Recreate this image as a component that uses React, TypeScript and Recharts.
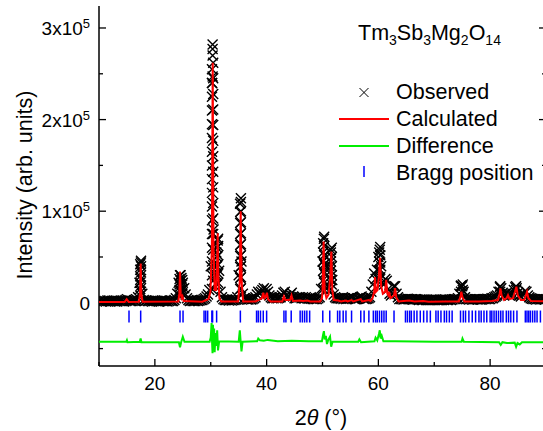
import React from 'react';
import { ComposedChart, Line, Scatter, XAxis, YAxis } from 'recharts';

const FONT = '"Liberation Sans", Arial, Helvetica, sans-serif';

// plot frame in page pixels (chart is wider than the window, right edge is cut)
const PL = 99;
const PR = 546;
const PT = 6;
const PB = 366;
const CW = 560;
const CH = 431;

// observed intensity (x1000 counts), one value every 0.25 deg from 10 to 90
const obsStart = 10;
const obsStep = 0.25;
const obsK = [
  2, 2.5, 1.5, 2, 2, 1.5, 2.5, 2, 1.5, 2, 2, 2.5, 2, 1.5, 2, 2, 2.5, 2, 1.5, 3,
  4, 3, 2, 2, 2, 2.5, 2, 3, 6, 22, 44, 10, 3, 2, 2.5, 2, 2, 2, 1.5, 2,
  2.5, 2, 2, 1.5, 2, 2.5, 2, 2, 2, 1.5, 2, 2.5, 2, 2, 3, 5, 10, 22, 30, 27,
  22, 16, 9, 5, 3, 2, 2.5, 2, 2, 2, 2.5, 2, 2.5, 3, 3, 4, 5, 7, 9, 14,
  40, 240, 80, 30, 55, 68, 35, 12, 6, 4, 3, 3, 3, 2.5, 3, 2.5, 3, 3, 3.5, 6,
  30, 108, 45, 10, 5, 4, 3.5, 3.5, 4, 3.5, 4, 5, 6, 9, 12, 10, 12, 14, 16, 10,
  15, 12, 8, 6, 5, 5, 6, 5, 5, 5.5, 6, 8, 11, 12, 8, 7, 7, 9, 11, 7,
  5, 5, 5.5, 6, 6, 5, 6, 5, 6, 5, 4.5, 5, 4.5, 4, 4, 4, 4, 5, 6, 15,
  45, 70, 40, 15, 18, 40, 58, 25, 9, 6, 5, 5, 5, 4.5, 5, 4, 5, 4, 4.5, 5,
  5, 6, 5, 4, 4, 5, 5, 6, 7, 5, 4, 4, 4.5, 5, 6, 12, 20, 32, 26, 36,
  50, 58, 40, 22, 20, 26, 24, 15, 10, 8, 10, 18, 18, 10, 6, 4, 4, 4, 3.5, 4,
  4, 4.5, 4, 4, 4, 3.5, 4, 4, 3.5, 3, 3.5, 3, 3, 3.5, 3, 3, 3, 3, 3.5, 3,
  3, 3.5, 3, 3, 3, 3, 3.5, 3, 3.5, 3, 3, 3.5, 3, 3.5, 4, 4, 4, 5, 10, 18,
  18, 12, 6, 4, 4, 3.5, 4, 3.5, 3.5, 4, 4, 3.5, 4, 3.5, 3.5, 4, 4, 4, 4.5, 4,
  4, 5, 5, 6, 7, 8, 12, 17, 16, 11, 8, 10, 11, 10, 8, 9, 10, 14, 17, 16,
  11, 8, 7, 9, 10, 13, 12, 8, 6, 5, 4.5, 4, 4, 3.5, 4, 4, 3.5, 4, 4, 3.5,
  4,
];

// steep peak flanks: observed points stacked at nearly the same angle
const obsColumns = [
  { x: 17.38, ys: [8, 15, 22, 29, 36, 42] },
  { x: 17.52, ys: [46, 40, 33, 26, 19, 12] },
  { x: 24.42, ys: [8, 14, 20, 26] },
  { x: 24.6, ys: [30, 24, 18, 12] },
  { x: 24.9, ys: [25, 20, 15, 10] },
  { x: 30.22, ys: [15, 30, 45, 60, 75, 90, 105, 120, 135, 150, 165, 180, 195, 210, 225, 240, 255] },
  { x: 30.33, ys: [282, 277, 270, 247] },
  { x: 30.44, ys: [262, 245, 228, 211, 194, 177, 160, 143, 126, 109, 92, 75, 58, 41, 24] },
  { x: 31.12, ys: [20, 30, 40, 50, 60] },
  { x: 31.32, ys: [70, 62, 52, 42, 32, 22] },
  { x: 35.27, ys: [15, 27, 39, 51, 63, 75, 87, 99] },
  { x: 35.4, ys: [114, 110, 100, 88, 76, 64, 52, 40, 28, 16] },
  { x: 50.12, ys: [15, 25, 35, 45, 55, 65] },
  { x: 50.3, ys: [72, 62, 52, 42, 32, 22] },
  { x: 51.5, ys: [15, 25, 35, 45, 55] },
  { x: 51.66, ys: [60, 50, 40, 30, 20] },
  { x: 60.15, ys: [25, 35, 45, 55] },
  { x: 60.33, ys: [61, 52, 44, 36, 28] },
  { x: 74.8, ys: [12, 19] },
  { x: 75.1, ys: [20, 14] },
  { x: 81.8, ys: [12, 18] },
  { x: 84.65, ys: [14, 18] },
];

// calculated profile (x1000 counts)
const calcPts: [number, number][] = [
  [10, 1], [14.6, 1], [14.95, 4], [15.3, 1], [17.15, 1.2], [17.34, 10], [17.46, 43], [17.58, 10], [17.8, 1.2],
  [24.2, 1.5], [24.38, 10], [24.5, 34], [24.62, 10], [24.8, 5], [24.95, 7], [25.15, 2],
  [28.5, 1.2], [29.0, 2.5], [29.6, 4], [29.95, 12], [30.2, 60], [30.35, 262], [30.5, 60], [30.7, 14],
  [30.97, 14], [31.12, 40], [31.24, 76], [31.36, 30], [31.55, 5], [31.9, 1.5],
  [34.9, 1.5], [35.18, 22], [35.36, 100], [35.54, 22], [35.8, 1.5],
  [38.0, 1.5], [38.5, 3], [39.15, 5], [39.4, 11], [39.62, 5], [39.85, 7], [40.05, 11], [40.25, 4], [40.7, 1.5],
  [42.8, 1.5], [43.1, 7], [43.35, 3], [44.2, 3], [44.45, 8], [44.7, 2], [46.0, 2.5], [46.5, 2], [47.3, 2.5], [47.8, 1.5],
  [49.6, 1.5], [49.9, 5], [50.0, 12], [50.2, 67], [50.38, 14], [50.7, 5], [51.1, 9], [51.4, 30], [51.58, 56],
  [51.75, 14], [52.0, 3], [52.8, 2.5], [53.3, 1.5], [54.2, 2.5], [54.5, 1.5], [55.2, 3], [55.5, 1.5],
  [56.85, 4], [57.1, 1.5], [58.3, 3], [58.6, 2],
  [58.95, 5], [59.25, 12], [59.4, 28], [59.55, 12], [59.85, 14], [60.1, 30], [60.3, 49], [60.5, 18], [60.8, 10],
  [61.2, 12], [61.4, 25], [61.6, 10], [61.8, 8], [61.95, 12], [62.15, 5], [62.8, 8], [63.0, 16], [63.2, 6], [63.6, 1.5],
  [65.5, 2.5], [66.5, 1.5], [68.0, 2], [69.0, 1.2], [72.0, 1.5], [74.4, 1.5], [74.7, 7], [74.85, 12], [75.05, 6], [75.4, 1.5],
  [78.0, 1.5], [80.3, 2], [81.4, 3], [81.7, 10], [81.85, 15.7], [82.05, 8], [82.5, 3], [82.95, 5], [83.2, 8.4], [83.5, 4],
  [84.1, 5], [84.45, 12], [84.7, 17.5], [84.95, 8], [85.5, 3], [86.1, 3], [86.4, 8], [86.6, 12], [86.85, 5], [87.3, 2], [90, 1.5],
];

// observed minus calculated, drawn offset below the pattern (x1000 counts)
const diffPts: [number, number][] = [
  [10, -42.5], [14.9, -42.5], [15.0, -41], [15.1, -43], [17.3, -42.5], [17.45, -39], [17.6, -43],
  [24.3, -43], [24.5, -48.5], [24.7, -43], [25.0, -37], [25.3, -42.5],
  [29.8, -42.5], [30.0, -38], [30.15, -22], [30.25, -45], [30.32, -55], [30.4, -24], [30.5, -50], [30.6, -28],
  [30.7, -54], [30.85, -33], [31.0, -47], [31.15, -30], [31.3, -52], [31.5, -42],
  [35.0, -42.5], [35.2, -30], [35.35, -42], [35.5, -53], [35.7, -42.5],
  [38.3, -42], [38.5, -39], [38.8, -41], [39.5, -41.5], [40.2, -40.5], [42, -42], [44.5, -41.5], [47.5, -42],
  [49.9, -42], [50.1, -35], [50.25, -31], [50.4, -40], [50.6, -36], [50.8, -45], [51.0, -41], [51.35, -37],
  [51.55, -48], [51.8, -42.5], [56.4, -42.5], [56.6, -40], [56.9, -43],
  [59.3, -42], [59.5, -38], [59.8, -41], [60.1, -34], [60.25, -30], [60.4, -39], [60.6, -36], [60.9, -42],
  [63, -42], [70, -42.5], [74.9, -42.5], [75.05, -39], [75.3, -42.5],
  [81.6, -43], [81.9, -46], [82.2, -43], [83.0, -44], [84.4, -43.5], [84.65, -48], [84.9, -44], [85.3, -45.5],
  [85.7, -43], [90, -43],
];

const braggPos = [
  15.37, 17.46, 24.5, 25.04, 28.8, 29.1, 29.45, 30.2, 30.33, 31.05, 35.3,
  38.2, 38.5, 38.9, 39.4, 40.0, 43.1, 43.45, 44.4, 46.0, 46.4, 46.8, 47.2, 47.7,
  50.05, 51.3, 52.7, 53.1, 53.7, 54.2, 55.2, 56.85, 57.45, 58.3, 59.1, 59.5, 59.8,
  60.2, 60.6, 61.0, 61.4, 62.8, 64.85, 65.2, 65.6, 65.9, 66.4, 66.9, 67.5, 68.1,
  68.7, 69.3, 70.3, 70.7, 71.2, 71.8, 72.2, 72.7, 73.2, 74.7, 75.2, 75.6, 76.2,
  76.8, 77.4, 78.0, 78.4, 78.9, 79.4, 80.0, 80.3, 80.7, 81.1, 81.5, 81.9, 82.3,
  82.9, 83.3, 83.7, 84.2, 84.8, 86.3, 86.6, 86.9, 87.2, 87.6, 88.0, 88.4, 89.0,
];
const braggLevel = -15;

const xDomain = [10, 90];
const yDomain = [-69, 324];
const xTicks = [10, 20, 30, 40, 50, 60, 70, 80, 90];
const xLabels = [20, 40, 60, 80];
const yTicks = [-50, 0, 50, 100, 150, 200, 250, 300];
const yLabels = [0, 100, 200, 300];

const obsData = [
  ...obsK.map((y, i) => ({ x: obsStart + i * obsStep, y })),
  ...obsColumns.flatMap(c => c.ys.map(y => ({ x: c.x, y }))),
];
const calcData = calcPts.map(([x, y]) => ({ x, y }));
const diffData = diffPts.map(([x, y]) => ({ x, y }));
const braggData = braggPos.map(x => ({ x, y: braggLevel }));

const Cross = (p: any) => {
  const { cx, cy } = p;
  const s = 5;
  return (
    <path
      d={`M${cx - s},${cy - s}L${cx + s},${cy + s}M${cx - s},${cy + s}L${cx + s},${cy - s}`}
      stroke="#000"
      strokeWidth={1.4}
      fill="none"
    />
  );
};

const BraggMark = (p: any) => (
  <line x1={p.cx} x2={p.cx} y1={p.cy - 6} y2={p.cy + 6} stroke="#0000ff" strokeWidth={1.5} />
);

const BottomTick = (p: any) => {
  const v = p.payload.value;
  const major = xLabels.includes(v);
  return (
    <g>
      <line x1={p.x} x2={p.x} y1={PB} y2={PB - (major ? 7 : 4)} stroke="#000" strokeWidth={1.3} />
      {major && (
        <text x={p.x} y={PB + 24} textAnchor="middle" fontSize={19} fontFamily={FONT} fill="#000">
          {v}
        </text>
      )}
    </g>
  );
};

const TopTick = (p: any) => {
  const major = xLabels.includes(p.payload.value);
  return <line x1={p.x} x2={p.x} y1={PT} y2={PT + (major ? 7 : 4)} stroke="#000" strokeWidth={1.3} />;
};

const LeftTick = (p: any) => {
  const v = p.payload.value;
  const major = yLabels.includes(v);
  return (
    <g>
      <line x1={PL} x2={PL + (major ? 7 : 4)} y1={p.y} y2={p.y} stroke="#000" strokeWidth={1.3} />
      {major && (
        <text x={90} y={p.y + 7} textAnchor="end" fontSize={19} fontFamily={FONT} fill="#000">
          {v === 0 ? '0' : `${v / 100}x10`}
          {v !== 0 && (
            <tspan fontSize={13} dy={-7}>
              5
            </tspan>
          )}
        </text>
      )}
    </g>
  );
};

const RightTick = (p: any) => {
  const major = yLabels.includes(p.payload.value);
  return <line x1={PR - (major ? 7 : 4)} x2={PR} y1={p.y} y2={p.y} stroke="#000" strokeWidth={1.3} />;
};

const axisStyle = { stroke: '#000', strokeWidth: 1.5 };
const overlay: React.CSSProperties = { position: 'absolute', left: 0, top: 0 };

export default function App() {
  return (
    <div
      style={{
        position: 'absolute',
        left: 0,
        top: 0,
        width: 543,
        height: 431,
        overflow: 'hidden',
        background: '#fff',
      }}
    >
      {/* frame, ticks, observed crosses and Bragg marks */}
      <div style={overlay}>
        <ComposedChart width={CW} height={CH} margin={{ top: PT, right: 0, bottom: 0, left: 0 }}>
          <XAxis
            xAxisId="b"
            type="number"
            dataKey="x"
            domain={xDomain}
            ticks={xTicks}
            allowDataOverflow
            height={CH - PB}
            axisLine={axisStyle}
            tickLine={false}
            tickSize={0}
            tick={BottomTick}
            interval={0}
          />
          <XAxis
            xAxisId="t"
            orientation="top"
            type="number"
            dataKey="x"
            domain={xDomain}
            ticks={xTicks}
            allowDataOverflow
            height={0}
            axisLine={axisStyle}
            tickLine={false}
            tickSize={0}
            tick={TopTick}
            interval={0}
          />
          <YAxis
            yAxisId="l"
            type="number"
            dataKey="y"
            domain={yDomain}
            ticks={yTicks}
            allowDataOverflow
            width={PL}
            axisLine={axisStyle}
            tickLine={false}
            tickSize={0}
            tick={LeftTick}
            interval={0}
          />
          <YAxis
            yAxisId="r"
            orientation="right"
            type="number"
            dataKey="y"
            domain={yDomain}
            ticks={yTicks}
            allowDataOverflow
            width={CW - PR}
            axisLine={axisStyle}
            tickLine={false}
            tickSize={0}
            tick={RightTick}
            interval={0}
          />
          <Scatter xAxisId="b" yAxisId="l" data={obsData} dataKey="y" shape={Cross} isAnimationActive={false} />
          <Scatter xAxisId="b" yAxisId="l" data={braggData} dataKey="y" shape={BraggMark} isAnimationActive={false} />
        </ComposedChart>
      </div>

      {/* calculated and difference curves drawn on top of the crosses */}
      <div style={overlay}>
        <ComposedChart
          width={CW}
          height={CH}
          margin={{ top: PT, right: CW - PR, bottom: CH - PB, left: PL }}
        >
          <XAxis type="number" dataKey="x" domain={xDomain} allowDataOverflow hide />
          <YAxis type="number" dataKey="y" domain={yDomain} allowDataOverflow hide />
          <Line
            data={diffData}
            dataKey="y"
            type="linear"
            stroke="#00ee00"
            strokeWidth={2}
            dot={false}
            isAnimationActive={false}
          />
          <Line
            data={calcData}
            dataKey="y"
            type="linear"
            stroke="#ff0000"
            strokeWidth={2}
            dot={false}
            isAnimationActive={false}
          />
        </ComposedChart>
      </div>

      <svg width={543} height={431} style={{ ...overlay, pointerEvents: 'none' }} fontFamily={FONT}>
        <text x={358} y={40} fontSize={21.5} fill="#000">
          Tm<tspan fontSize={14} dy={5}>3</tspan>
          <tspan dy={-5}>Sb</tspan>
          <tspan fontSize={14} dy={5}>3</tspan>
          <tspan dy={-5}>Mg</tspan>
          <tspan fontSize={14} dy={5}>2</tspan>
          <tspan dy={-5}>O</tspan>
          <tspan fontSize={14} dy={5}>14</tspan>
        </text>

        <path d="M359.5,88 L368.5,97 M359.5,97 L368.5,88" stroke="#000" strokeWidth={1} fill="none" />
        <text x={396} y={99} fontSize={21.5} fill="#000">Observed</text>
        <line x1={339} x2={389} y1={119} y2={119} stroke="#ff0000" strokeWidth={2} />
        <text x={396} y={126} fontSize={21.5} fill="#000">Calculated</text>
        <line x1={339} x2={389} y1={146} y2={146} stroke="#00ee00" strokeWidth={2} />
        <text x={396} y={153} fontSize={21.5} fill="#000">Difference</text>
        <line x1={364} x2={364} y1={166} y2={177} stroke="#0000ff" strokeWidth={1.5} />
        <text x={396} y={179.5} fontSize={21.5} fill="#000">Bragg position</text>

        <text x={321} y={425} textAnchor="middle" fontSize={21.5} fill="#000">
          2<tspan fontStyle="italic">θ</tspan> (°)
        </text>
        <text x={32} y={185} textAnchor="middle" fontSize={21.5} fill="#000" transform="rotate(-90, 32, 185)">
          Intensity (arb. units)
        </text>
      </svg>
    </div>
  );
}
